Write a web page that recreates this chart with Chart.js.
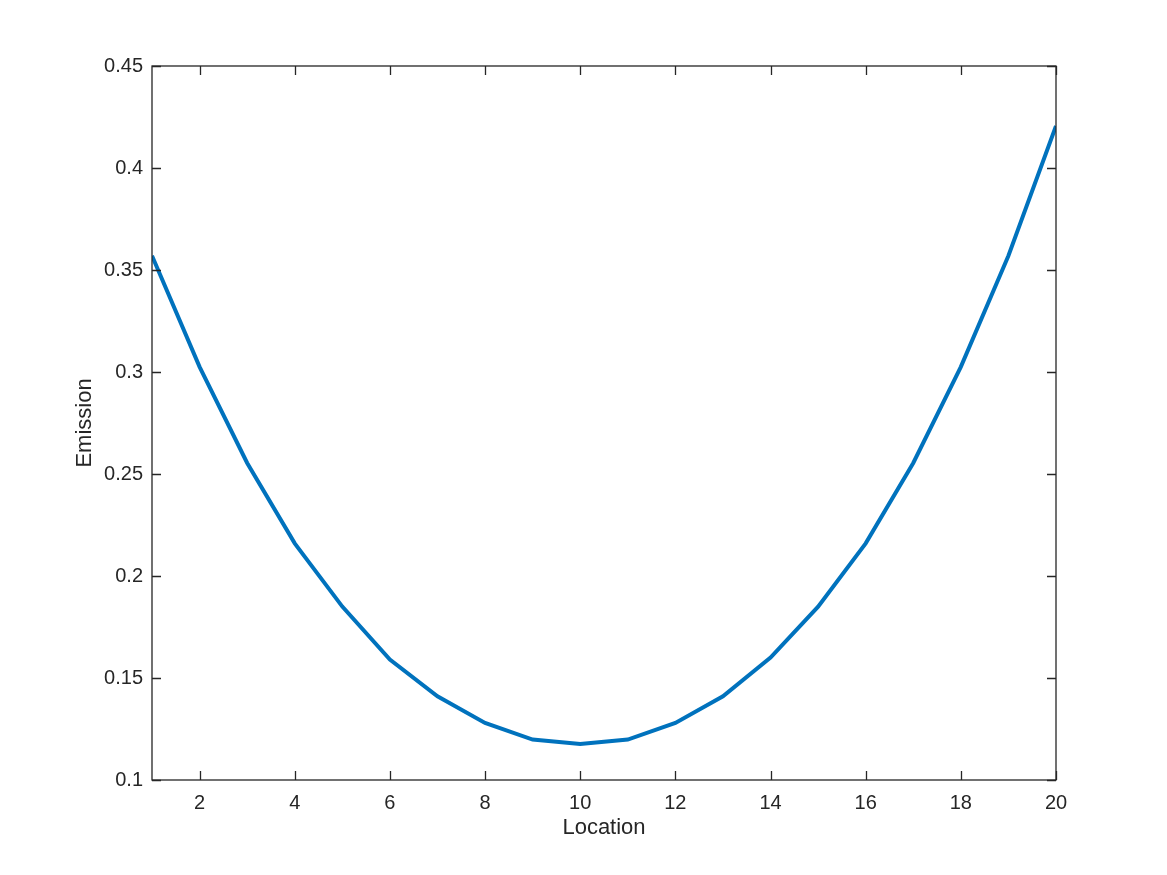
<!DOCTYPE html>
<html lang="en">
<head>
<meta charset="UTF-8">
<title>Emission</title>
<script src="https://cdn.jsdelivr.net/npm/chart.js"></script>
<style>
    html, body { margin: 0; padding: 0; background: #fff; }
    #box { width: 1167px; height: 875px; }
</style>
</head>
<body>
<div id="box"><canvas id="grafico"></canvas></div>
<script>
    // data
    var locations = [1, 2, 3, 4, 5, 6, 7, 8, 9, 10, 11, 12, 13, 14, 15, 16, 17, 18, 19, 20]
    var emission = [0.357, 0.3025, 0.2554, 0.216, 0.185, 0.159, 0.141, 0.128, 0.1198, 0.1176,
                    0.1198, 0.128, 0.141, 0.160, 0.185, 0.216, 0.2554, 0.3025, 0.357, 0.4206]
    var xTicks = [2, 4, 6, 8, 10, 12, 14, 16, 18, 20]
    var yTicks = [0.1, 0.15, 0.2, 0.25, 0.3, 0.35, 0.4, 0.45]

    var pontos = []
    for (var i = 0; i < locations.length; i++) {
        pontos.push({ x: locations[i], y: emission[i] })
    }

    // matlab style box with inward ticks
    var caixa = {
        id: 'caixa',
        afterDraw: function (chart) {
            var ctx = chart.ctx
            var a = chart.chartArea
            var sx = chart.scales.x
            var sy = chart.scales.y
            var len = 9
            ctx.save()
            ctx.strokeStyle = '#262626'
            ctx.lineWidth = 1.3
            ctx.strokeRect(a.left, a.top, a.right - a.left, a.bottom - a.top)
            ctx.beginPath()
            xTicks.forEach(function (t) {
                var px = Math.round(sx.getPixelForValue(t)) + 0.5
                ctx.moveTo(px, a.bottom); ctx.lineTo(px, a.bottom - len)
                ctx.moveTo(px, a.top); ctx.lineTo(px, a.top + len)
            })
            yTicks.forEach(function (t) {
                var py = Math.round(sy.getPixelForValue(t)) + 0.5
                ctx.moveTo(a.left, py); ctx.lineTo(a.left + len, py)
                ctx.moveTo(a.right, py); ctx.lineTo(a.right - len, py)
            })
            ctx.stroke()
            ctx.restore()
        }
    }

    var fonte = 'Helvetica, "Liberation Sans", Arial, sans-serif'

    new Chart(document.getElementById('grafico'), {
        type: 'line',
        data: {
            datasets: [{
                data: pontos,
                borderColor: '#0072BD',
                borderWidth: 4,
                pointRadius: 0,
                tension: 0,
                fill: false
            }]
        },
        options: {
            responsive: true,
            maintainAspectRatio: false,
            animation: false,
            layout: { padding: { left: 72, right: 111, top: 66, bottom: 34 } },
            plugins: {
                legend: { display: false },
                tooltip: { enabled: false }
            },
            scales: {
                x: {
                    type: 'linear',
                    min: 1,
                    max: 20,
                    afterBuildTicks: function (s) {
                        s.ticks = xTicks.map(function (v) { return { value: v } })
                    },
                    afterFit: function (s) { s.height = 61 },
                    grid: { display: false, drawTicks: false },
                    border: { display: false },
                    ticks: {
                        color: '#262626',
                        padding: 11,
                        maxRotation: 0,
                        font: { family: fonte, size: 20 }
                    },
                    title: {
                        display: true,
                        text: 'Location',
                        color: '#262626',
                        padding: { top: 0, bottom: 0 },
                        font: { family: fonte, size: 22 }
                    }
                },
                y: {
                    min: 0.1,
                    max: 0.45,
                    afterBuildTicks: function (s) {
                        s.ticks = yTicks.map(function (v) { return { value: v } })
                    },
                    afterFit: function (s) { s.width = 80 },
                    grid: { display: false, drawTicks: false },
                    border: { display: false },
                    ticks: {
                        color: '#262626',
                        padding: 9,
                        font: { family: fonte, size: 20 },
                        callback: function (v) { return String(Math.round(v * 100) / 100) }
                    },
                    title: {
                        display: true,
                        text: 'Emission',
                        color: '#262626',
                        padding: { top: 0, bottom: 0 },
                        font: { family: fonte, size: 22 }
                    }
                }
            }
        },
        plugins: [caixa]
    })
</script>
</body>
</html>
